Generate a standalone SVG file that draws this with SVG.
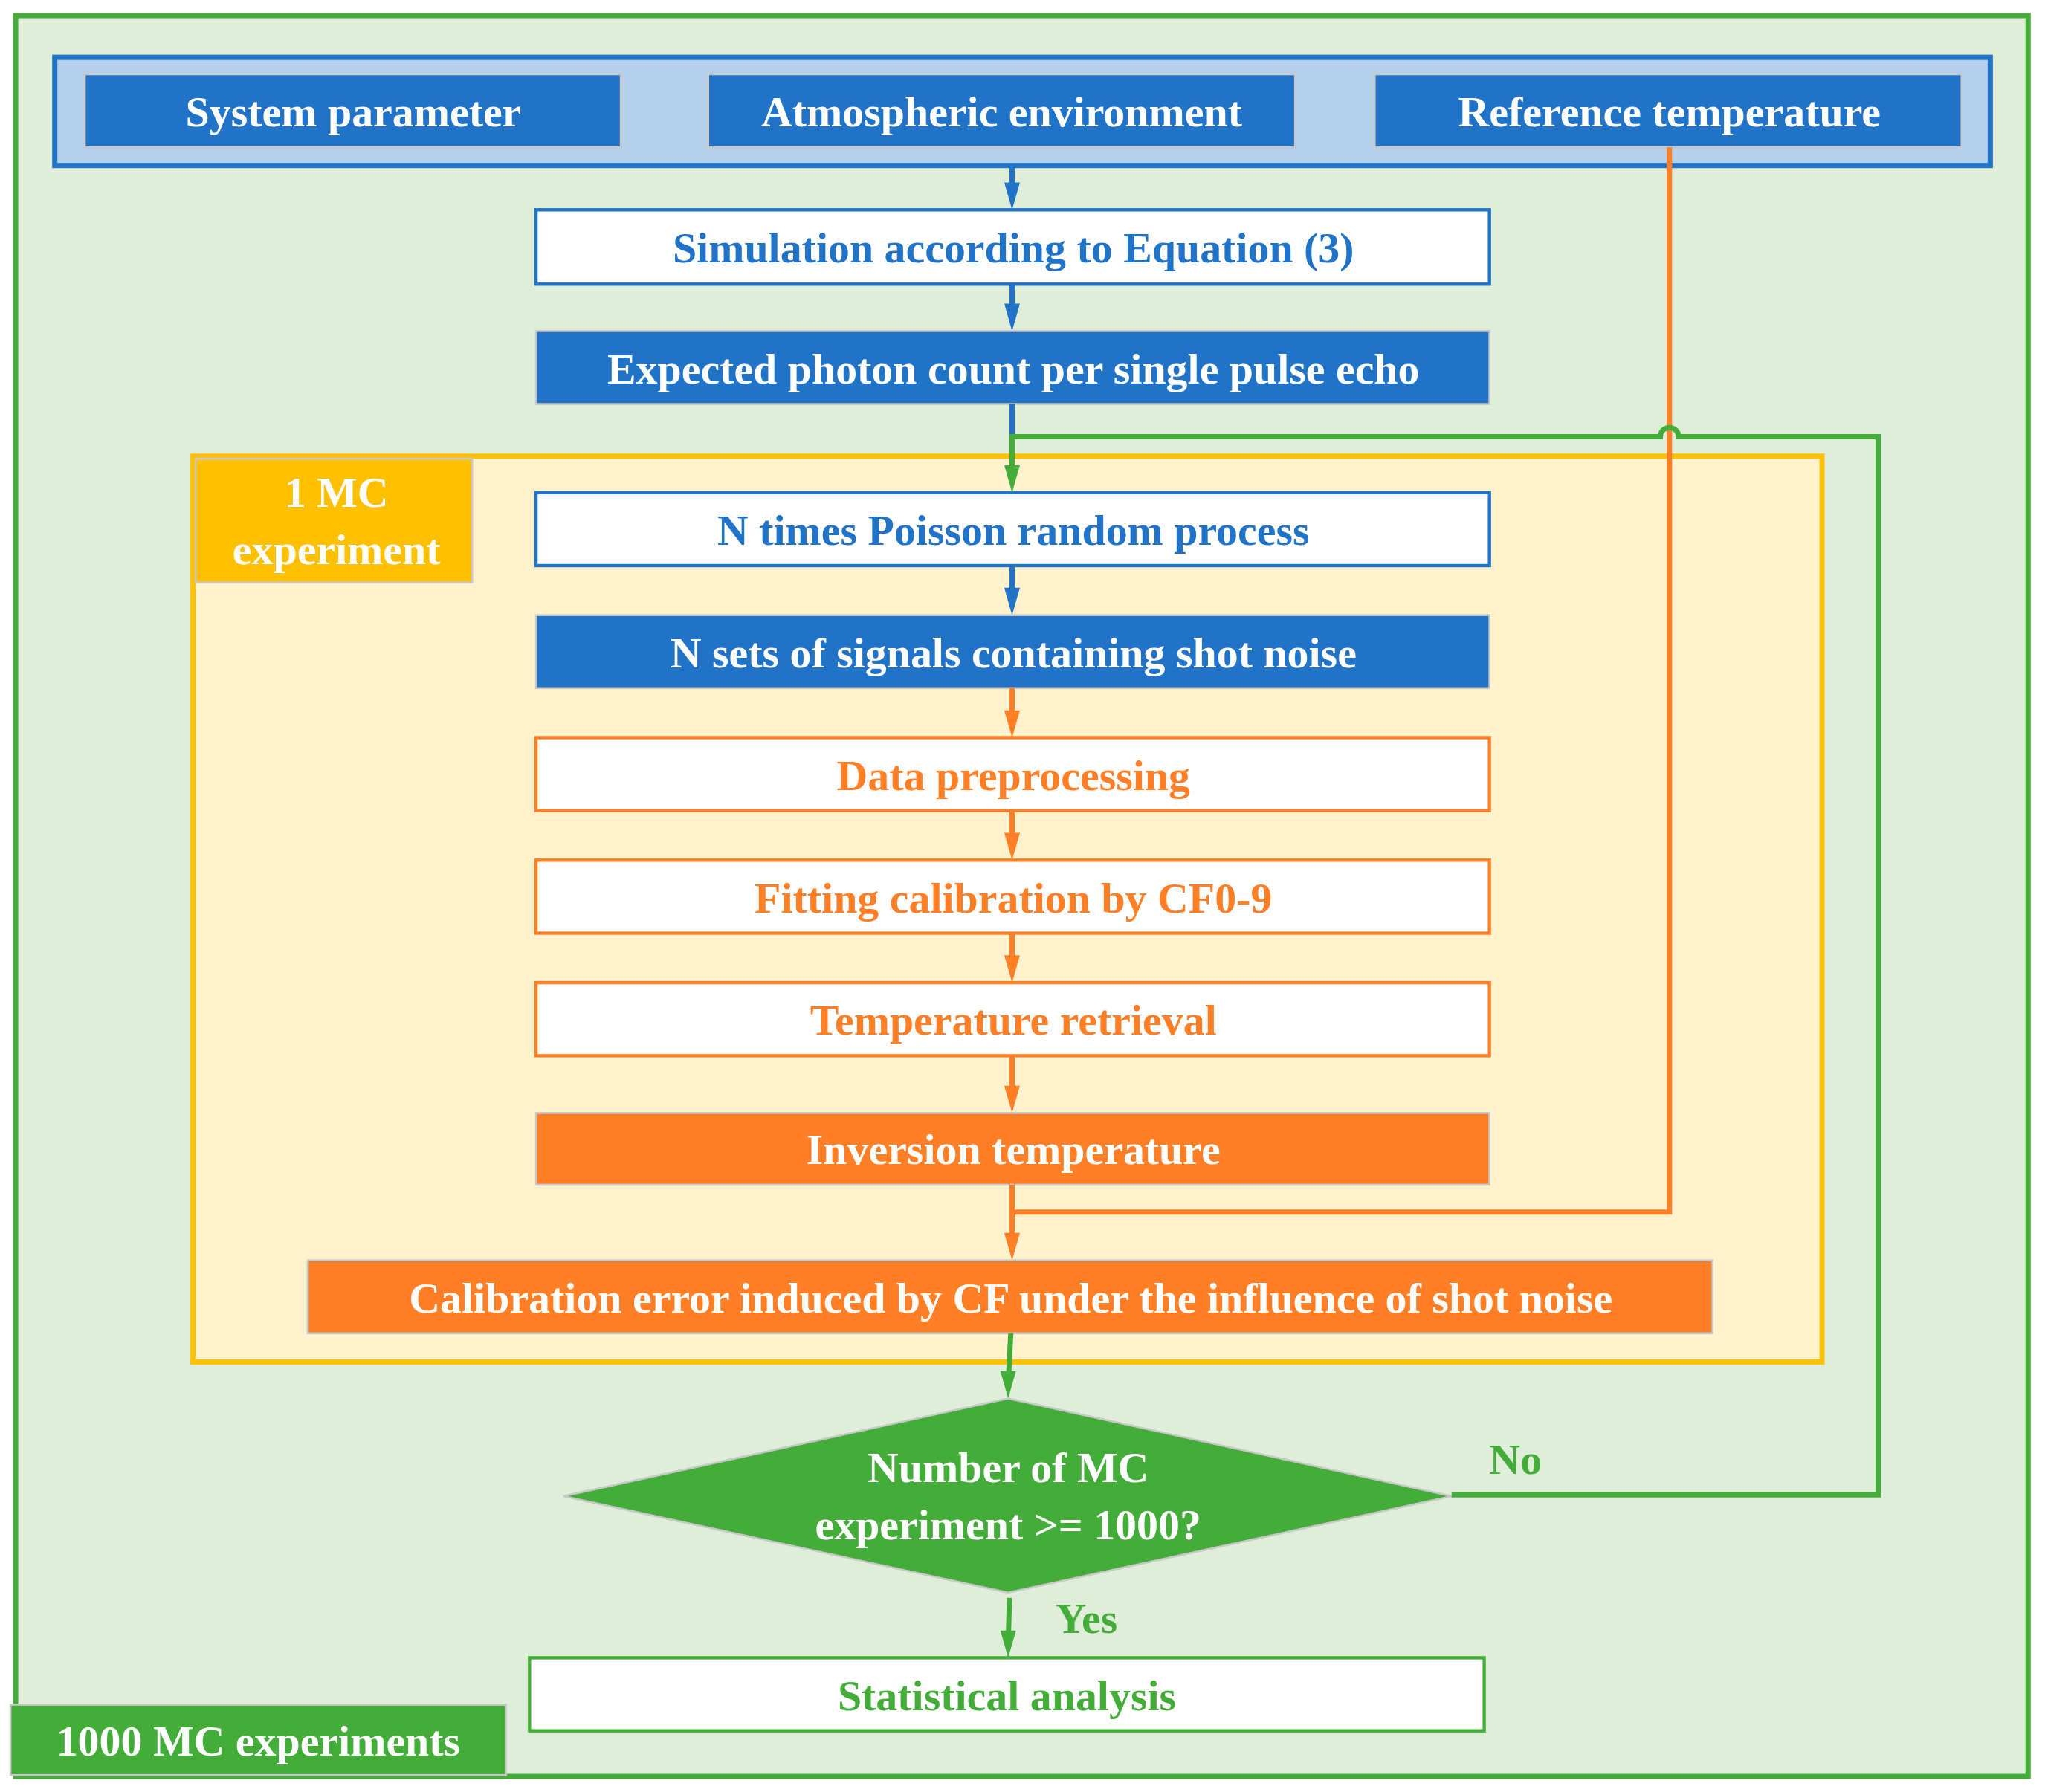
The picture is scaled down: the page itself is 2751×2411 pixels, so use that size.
<svg xmlns="http://www.w3.org/2000/svg" width="2751" height="2411" viewBox="0 0 2751 2411">
<style>
text{font-family:"Liberation Serif","Times New Roman",serif;font-weight:bold;font-size:33px;text-anchor:middle;dominant-baseline:central}
.w{fill:#fff}.b{fill:#2173C8}.o{fill:#FF7F27}.g{fill:#44AD3A}
.bf{fill:#2173C8;stroke:#c8c8c8;stroke-width:1.5}
.of{fill:#FF7F27;stroke:#c8c8c8;stroke-width:1.5}
.bw{fill:#fff;stroke:#2173C8;stroke-width:2.5}
.ow{fill:#fff;stroke:#FF7F27;stroke-width:2.5}
.gw{fill:#fff;stroke:#44AD3A;stroke-width:2.5}
.lb{stroke:#2173C8;stroke-width:4;fill:none}
.lo{stroke:#FF7F27;stroke-width:4;fill:none}
.lg{stroke:#44AD3A;stroke-width:4;fill:none}
</style>
<defs>
<marker id="ab" markerWidth="6" markerHeight="8" refX="5" refY="4" orient="auto" markerUnits="userSpaceOnUse" viewBox="0 0 6 8"><path d="M0,0L6,4L0,8z" fill="#2173C8"/></marker>
</defs>
<g transform="scale(1.7545,1.7535)">
<g id="frame-outer"><rect x="12" y="12" width="1543" height="1351" fill="#DEEED8" stroke="#44AD3A" stroke-width="4"/></g>
<g id="frame-top"><rect x="42" y="44" width="1484" height="83" fill="#B4D0EA" stroke="#2173C8" stroke-width="4"/></g>
<g id="frame-mc"><rect x="148" y="350" width="1249" height="695" fill="#FFF2CC" stroke="#FFC000" stroke-width="4"/></g>
<g id="n-sys"><rect class="bf" x="65" y="57" width="411" height="56"/><text class="w" x="271" y="86">System parameter</text></g>
<g id="n-atm"><rect class="bf" x="543" y="57" width="450" height="56"/><text class="w" x="768" y="86">Atmospheric environment</text></g>
<g id="n-ref"><rect class="bf" x="1054" y="57" width="450" height="56"/><text class="w" x="1280" y="86">Reference temperature</text></g>
<g id="n-sim"><rect class="bw" x="411" y="161" width="731" height="57"/><text class="b" x="777" y="190">Simulation according to Equation (3)</text></g>
<g id="n-exp"><rect class="bf" x="411" y="254" width="731" height="56"/><text class="w" x="777" y="283">Expected photon count per single pulse echo</text></g>
<g id="n-lbl1"><rect x="150" y="352" width="212" height="95" fill="#FFC000" stroke="#c8c8c8" stroke-width="1.5"/><text class="w" x="258" y="378">1 MC</text><text class="w" x="258" y="422">experiment</text></g>
<g id="n-poi"><rect class="bw" x="411" y="378" width="731" height="56"/><text class="b" x="777" y="407">N times Poisson random process</text></g>
<g id="n-sets"><rect class="bf" x="411" y="472" width="731" height="56"/><text class="w" x="777" y="501">N sets of signals containing shot noise</text></g>
<g id="n-pre"><rect class="ow" x="411" y="566" width="731" height="56"/><text class="o" x="777" y="595">Data preprocessing</text></g>
<g id="n-fit"><rect class="ow" x="411" y="660" width="731" height="56"/><text class="o" x="777" y="689">Fitting calibration by CF0-9</text></g>
<g id="n-ret"><rect class="ow" x="411" y="754" width="731" height="56"/><text class="o" x="777" y="783">Temperature retrieval</text></g>
<g id="n-inv"><rect class="of" x="411" y="854" width="731" height="55"/><text class="w" x="777" y="882">Inversion temperature</text></g>
<g id="n-cal"><rect class="of" x="236" y="967" width="1077" height="56"/><text class="w" x="775" y="996">Calibration error induced by CF under the influence of shot noise</text></g>
<g id="n-dec"><polygon points="773,1073 1113,1148 773,1222 432,1148" fill="#44AD3A" stroke="#c8c8c8" stroke-width="1.5"/><text class="w" x="773" y="1126">Number of MC</text><text class="w" x="773" y="1170">experiment &gt;= 1000?</text></g>
<g id="n-stat"><rect class="gw" x="406" y="1272" width="732" height="56"/><text class="g" x="772" y="1301">Statistical analysis</text></g>
<g id="n-lbl2"><rect x="8" y="1308" width="380" height="54" fill="#44AD3A" stroke="#c8c8c8" stroke-width="1.5"/><text class="w" x="198" y="1336">1000 MC experiments</text></g>
<g id="connectors">
<path class="lb" d="M776,127V150"/><path d="M770,140L776,161L782,140z" fill="#2173C8"/>
<path class="lb" d="M776,218V243"/><path d="M770,233L776,254L782,233z" fill="#2173C8"/>
<path class="lb" d="M776,310V335"/>
<path class="lb" d="M776,434V461"/><path d="M770,451L776,472L782,451z" fill="#2173C8"/>
<path class="lo" d="M776,528V555"/><path d="M770,545L776,566L782,545z" fill="#FF7F27"/>
<path class="lo" d="M776,622V649"/><path d="M770,639L776,660L782,639z" fill="#FF7F27"/>
<path class="lo" d="M776,716V743"/><path d="M770,733L776,754L782,733z" fill="#FF7F27"/>
<path class="lo" d="M776,810V843"/><path d="M770,833L776,854L782,833z" fill="#FF7F27"/>
<path class="lo" d="M1280,113V930H776"/>
<path class="lo" d="M776,909V956"/><path d="M770,946L776,967L782,946z" fill="#FF7F27"/>
<path class="lg" d="M1113,1147H1440V335H1287A7,7 0 0 0 1273,335H776V367"/><path d="M770,357L776,378L782,357z" fill="#44AD3A"/>
<path class="lg" d="M775,1023L773,1062"/><path d="M767,1052L773,1073L779,1052z" fill="#44AD3A"/>
<path class="lg" d="M774,1226L773,1261"/><path d="M767,1251L773,1272L779,1251z" fill="#44AD3A"/>
<text class="g" x="833" y="1242">Yes</text>
<text class="g" x="1162" y="1120">No</text>
</g>
</g>
</svg>
